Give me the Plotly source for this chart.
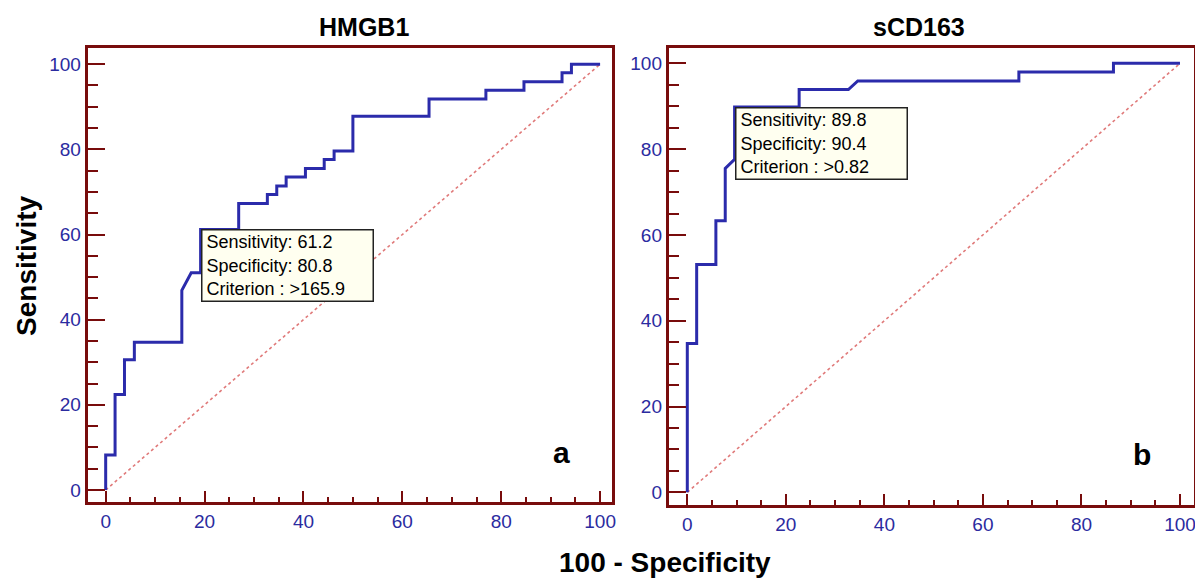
import plotly.graph_objects as go

# ---------------- data ----------------
hmgb1_fpr = [0, 0, 1.9, 1.9, 3.8, 3.8, 5.8, 5.8, 15.4, 15.4, 17.3, 19.2, 19.2, 26.9, 26.9,
             32.7, 32.7, 34.6, 34.6, 36.5, 36.5, 40.4, 40.4, 44.2, 44.2, 46.2, 46.2, 50.0,
             50.0, 65.4, 65.4, 76.9, 76.9, 84.6, 84.6, 92.3, 92.3, 94.2, 94.2, 100]
hmgb1_tpr = [0, 8.2, 8.2, 22.4, 22.4, 30.6, 30.6, 34.7, 34.7, 46.9, 51.0, 51.0, 61.2, 61.2, 67.3,
             67.3, 69.4, 69.4, 71.4, 71.4, 73.5, 73.5, 75.5, 75.5, 77.6, 77.6, 79.6, 79.6,
             87.8, 87.8, 91.8, 91.8, 93.9, 93.9, 95.9, 95.9, 98.0, 98.0, 100, 100]

scd163_fpr = [0, 0, 1.9, 1.9, 5.8, 5.8, 7.7, 7.7, 9.6, 9.6, 22.7, 22.7, 32.7, 34.6, 67.3,
              67.3, 86.5, 86.5, 100]
scd163_tpr = [0, 34.7, 34.7, 53.1, 53.1, 63.3, 63.3, 75.5, 77.6, 89.8, 89.8, 93.9, 93.9, 95.9,
              95.9, 98.0, 98.0, 100, 100]

ref_line = [0, 100]

panel_titles = ["HMGB1", "sCD163"]
panel_letters = ["a", "b"]
criteria = [
    {"sens": 61.2, "spec": 80.8, "crit": ">165.9"},
    {"sens": 89.8, "spec": 90.4, "crit": ">0.82"},
]
tick_vals = [0, 20, 40, 60, 80, 100]

# ---------------- styles ----------------
OFF = 8                      # default page body margin (left/top)
W, H = 1203 - OFF, 580 - OFF
FRAME = "#780c0c"
CURVE = "#2b2bab"
TICKLBL = "#2b2ba0"
DIAG = "#e07a7a"
FONT = "Liberation Sans, Arial, sans-serif"

fig = go.Figure()

curves = [(hmgb1_fpr, hmgb1_tpr), (scd163_fpr, scd163_tpr)]
for i, (fx, ty) in enumerate(curves):
    xa = "x" if i == 0 else "x2"
    ya = "y" if i == 0 else "y2"
    fig.add_trace(go.Scatter(x=ref_line, y=ref_line, mode="lines",
                             line=dict(color=DIAG, width=1.6, dash="dot"),
                             xaxis=xa, yaxis=ya, showlegend=False, hoverinfo="skip"))
    fig.add_trace(go.Scatter(x=fx, y=ty, mode="lines",
                             line=dict(color=CURVE, width=3),
                             xaxis=xa, yaxis=ya, showlegend=False))

# screen pixel -> paper coordinates
def pxx(p):
    return min(1.0, (p - OFF) / W)

def pxy(p):
    return max(0.0, 1 - (p - OFF) / H)

common_x = dict(showgrid=False, zeroline=False, showline=True, mirror=True,
                linecolor=FRAME, linewidth=3, ticks="inside", ticklen=11,
                tickcolor=FRAME, tickwidth=2, tickvals=tick_vals,
                tickfont=dict(family=FONT, size=19, color=TICKLBL),
                minor=dict(dtick=5, tick0=0, ticks="inside", ticklen=5,
                           tickcolor=FRAME, tickwidth=2))
common_y = dict(showgrid=False, zeroline=False, showline=True, mirror=True,
                linecolor=FRAME, linewidth=3, ticks="inside", ticklen=17,
                tickcolor=FRAME, tickwidth=2, tickvals=tick_vals,
                tickfont=dict(family=FONT, size=19, color=TICKLBL),
                minor=dict(dtick=5, tick0=0, ticks="inside", ticklen=10,
                           tickcolor=FRAME, tickwidth=2))

fig.update_layout(
    width=W, height=H,
    margin=dict(l=0, r=0, t=0, b=0),
    paper_bgcolor="white", plot_bgcolor="white",
    xaxis=dict(domain=[pxx(88), pxx(614)], range=[-3.63, 102.4], anchor="y", **common_x),
    yaxis=dict(domain=[pxy(502), pxy(48)], range=[-2.82, 103.8], anchor="x", **common_y),
    xaxis2=dict(domain=[pxx(671), pxx(1198)], range=[-3.76, 102.85], anchor="y2", **common_x),
    yaxis2=dict(domain=[pxy(505), pxy(47.5)], range=[-2.96, 103.7], anchor="x2", **common_y),
)

annotations = []
for i, c in enumerate(criteria):
    xr = "x" if i == 0 else "x2"
    yr = "y" if i == 0 else "y2"
    annotations.append(dict(
        x=100 - c["spec"], y=c["sens"], xref=xr, yref=yr,
        xanchor="left", yanchor="top", showarrow=False, align="left",
        text=f"Sensitivity: {c['sens']}<br>Specificity: {c['spec']}<br>Criterion : {c['crit']}",
        font=dict(family=FONT, size=18, color="black"),
        bgcolor="#fffff0", bordercolor="#222222", borderwidth=1.5, borderpad=4,
        width=162, height=62))
    annotations.append(dict(
        x=92.2, y=8.9, xref=xr, yref=yr, showarrow=False,
        xanchor="center", yanchor="middle",
        text=panel_letters[i], font=dict(family=FONT, size=30, color="black", weight="bold")))

title_x = [365, 922]
for i, t in enumerate(panel_titles):
    annotations.append(dict(x=pxx(title_x[i]), y=pxy(27), xref="paper", yref="paper",
                            xanchor="center", yanchor="middle", showarrow=False, text=t,
                            font=dict(family=FONT, size=25, color="black", weight="bold")))

annotations.append(dict(x=pxx(667), y=pxy(562), xref="paper", yref="paper", showarrow=False,
                        xanchor="center", yanchor="middle", text="100 - Specificity",
                        font=dict(family=FONT, size=28, color="black", weight="bold")))
annotations.append(dict(x=pxx(26), y=pxy(266), xref="paper", yref="paper", showarrow=False,
                        xanchor="center", yanchor="middle", text="Sensitivity", textangle=-90,
                        font=dict(family=FONT, size=28, color="black", weight="bold")))

fig.update_layout(annotations=annotations)
fig.write_html("out.html")
